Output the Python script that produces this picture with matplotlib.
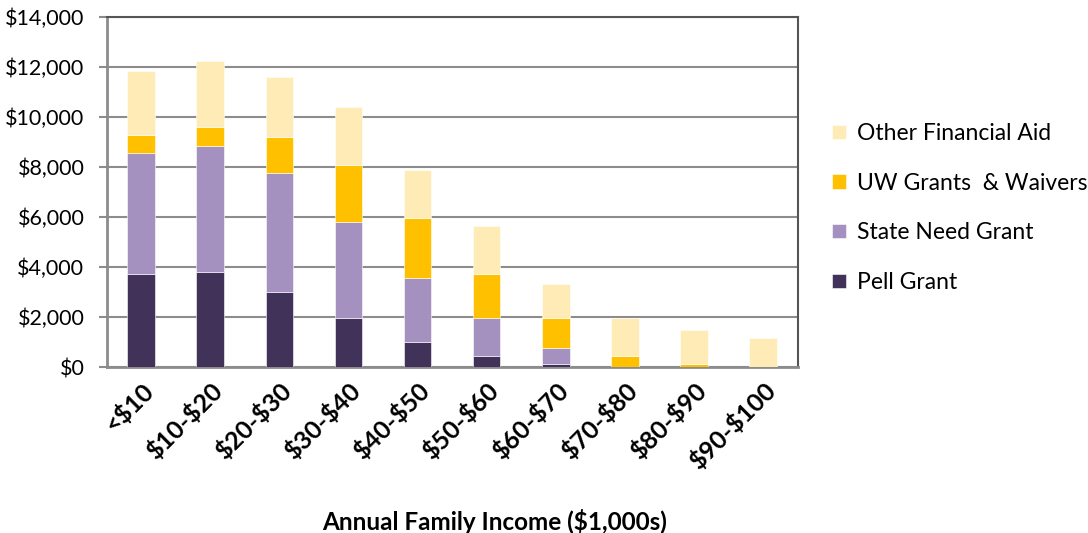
import numpy as np
import matplotlib.pyplot as plt
from matplotlib.ticker import FuncFormatter

plt.rcParams['font.family'] = ['Lato', 'DejaVu Sans']
plt.rcParams['text.parse_math'] = False

categories = ['<$10', '$10-$20', '$20-$30', '$30-$40', '$40-$50',
              '$50-$60', '$60-$70', '$70-$80', '$80-$90', '$90-$100']
pell = [3720, 3800, 3000, 1970, 1010, 440, 130, 0, 0, 0]
state_need = [4850, 5030, 4780, 3830, 2550, 1530, 650, 0, 0, 0]
uw_grants = [720, 780, 1430, 2290, 2390, 1750, 1180, 440, 130, 20]
other_aid = [2550, 2640, 2400, 2320, 1920, 1920, 1360, 1520, 1350, 1140]

series = [('Pell Grant', pell, '#41325A'),
          ('State Need Grant', state_need, '#A591BF'),
          ('UW Grants  & Waivers', uw_grants, '#FFC000'),
          ('Other Financial Aid', other_aid, '#FFEBB5')]

fig = plt.figure(figsize=(10.88, 5.33), dpi=100)
ax = fig.add_axes([0.098, 0.311, 0.635, 0.657])

x = np.arange(len(categories))
bottom = np.zeros(len(categories))
handles = []
for name, vals, col in series:
    b = ax.bar(x, vals, 0.4, bottom=bottom, color=col, label=name,
               edgecolor='white', linewidth=0.4, zorder=3)
    handles.append(b)
    bottom += np.array(vals)

ax.set_ylim(0, 14000)
ax.set_xlim(-0.5, len(categories) - 0.5)
ax.set_yticks(np.arange(0, 14001, 2000))
ax.yaxis.set_major_formatter(FuncFormatter(lambda v, p: '${:,.0f}'.format(v)))
ax.grid(axis='y', color='#8c8c8c', linewidth=1.5, zorder=0)

ax.set_xticks(x)
ax.set_xticklabels(categories, rotation=45, ha='right', rotation_mode='anchor',
                   fontsize=18, fontweight='bold')
ax.tick_params(axis='x', length=0, pad=8)
ax.tick_params(axis='y', labelsize=15.5, length=6, color='#8c8c8c', width=1.5,
               pad=10)

for s in ['left', 'bottom']:
    ax.spines[s].set_color('#8c8c8c')
    ax.spines[s].set_linewidth(2)
for s in ['top', 'right']:
    ax.spines[s].set_color('#555555')
    ax.spines[s].set_linewidth(1.5)

ax.set_xlabel('Annual Family Income ($1,000s)', fontsize=17.5, fontweight='bold')
ax.xaxis.set_label_coords(0.562, -0.405)

ax.legend(handles[::-1], [h.get_label() for h in handles[::-1]],
          loc='center left', bbox_to_anchor=(1.02, 0.455), frameon=False,
          fontsize=16.5, handlelength=0.6, handleheight=0.6, labelspacing=1.25,
          handletextpad=0.5)

plt.savefig('out.png', dpi=100)
